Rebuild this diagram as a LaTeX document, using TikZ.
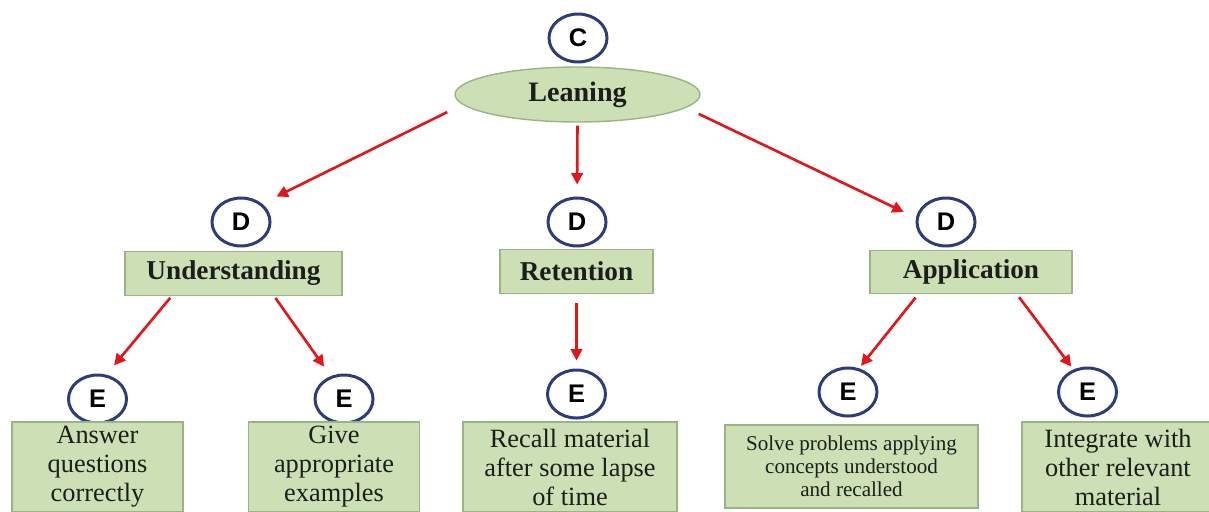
\documentclass[tikz,border=0pt]{standalone}
\usepackage{fontspec}
\setmainfont{Liberation Serif}
\newfontfamily\letterfont{Liberation Sans}
\usepackage{tikz}
\usetikzlibrary{shapes,shapes.geometric,arrows,positioning,calc,arrows.meta}
\definecolor{boxgreen}{HTML}{CCDFB5}
\definecolor{boxedge}{HTML}{9CB287}
\definecolor{ringblue}{HTML}{2E3C7C}
\definecolor{arrowred}{HTML}{E3161B}
\definecolor{inktext}{HTML}{1A1F1A}

\begin{document}
\begin{tikzpicture}[x=0.02cm, y=-0.02cm,
        letter/.style={ellipse, draw=ringblue, line width=1.7pt, fill=white, minimum width=1.16cm, minimum height=0.96cm, inner sep=0pt, font=\letterfont\bfseries\fontsize{14.5}{14.5}\selectfont},
        topic/.style={rectangle, draw=boxedge, line width=0.8pt, fill=boxgreen, inner sep=0pt, text=inktext, minimum height=0.87cm, font=\bfseries\fontsize{15.5}{17}\selectfont},
        detail/.style={rectangle, draw=boxedge, line width=0.8pt, fill=boxgreen, inner sep=0pt, align=center, text=inktext, minimum width=3.42cm, minimum height=1.8cm, font=\fontsize{15}{16.5}\selectfont},
        flow/.style={-{Triangle[length=6.5pt,width=6.5pt]}, draw=arrowred, line width=1.5pt}]
        \useasboundingbox (0,0) rectangle (1209,511);
        \clip (0,0) rectangle (1209,511);

        \node[letter] (cTop) at (578,38) {C};
        \node[ellipse, draw=boxedge, line width=0.8pt, fill=boxgreen, minimum width=4.9cm, minimum height=1.1cm, inner sep=0pt, text=inktext, font=\bfseries\fontsize{16}{18}\selectfont] (lean) at (577.5,94.5) {Leaning};

        \node[letter] (dLeft) at (241,222) {D};
        \node[letter] (dMid) at (577,222) {D};
        \node[letter] (dRight) at (946,222) {D};

        \node[topic, minimum width=4.34cm] (und) at (233.5,273.5) {Understanding};
        \node[topic, minimum width=3.06cm] (ret) at (576.5,271.5) {Retention};
        \node[topic, minimum width=4.04cm] (app) at (971,272) {Application};

        \node[letter] (eA) at (97.5,399) {E};
        \node[letter] (eB) at (344,399) {E};
        \node[letter] (eC) at (576.5,394) {E};
        \node[letter] (eD) at (848,392) {E};
        \node[letter] (eE) at (1087.5,392) {E};

        \node[detail] (ans) at (97.5,467) {Answer\\questions\\correctly};
        \node[detail] (give) at (334,467) {Give\\appropriate\\examples};
        \node[detail, minimum width=4.28cm] (rec) at (570,467) {Recall material\\after some lapse\\of time};
        \node[detail, minimum width=5.06cm, minimum height=1.66cm, font=\fontsize{12}{13}\selectfont] (solve) at (851.5,466.5) {Solve problems applying\\concepts understood\\and recalled};
        \node[detail, minimum width=3.84cm] (integ) at (1118,467) {Integrate with\\other relevant\\material};

        \draw[flow, shorten <=0.34cm, shorten >=0.32cm] (lean.185) -- (dLeft.41);
        \draw[flow, shorten <=0.06cm, shorten >=0.24cm] (lean.south) -- (dMid.north);
        \draw[flow, shorten <=0.28cm, shorten >=0.27cm] (lean.353.6) -- (dRight.172);

        \draw[flow, shorten <=0.05cm, shorten >=0.24cm] (und.200.1) -- (eA.70.3);
        \draw[flow, shorten <=0.05cm, shorten >=0.23cm] (und.331.8) -- (eB.120);
        \draw[flow, shorten <=0.19cm, shorten >=0.16cm] (ret.south) -- (eC.north);
        \draw[flow, shorten <=0.08cm, shorten >=0.06cm] (app.203.5) -- (eD.65.7);
        \draw[flow, shorten <=0.07cm, shorten >=0.07cm] (app.334.8) -- (eE.122.5);
    \end{tikzpicture}
\end{document}
